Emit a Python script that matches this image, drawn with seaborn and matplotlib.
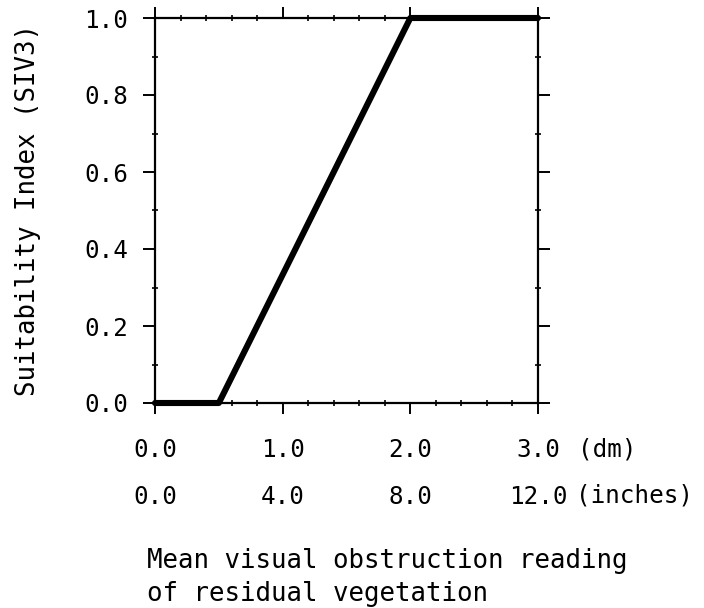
import matplotlib
matplotlib.use('Agg')
import matplotlib.pyplot as plt
import seaborn as sns
import pandas as pd
from matplotlib.ticker import MultipleLocator

# curve of the suitability index
obstruction_dm = [0.0, 0.5, 2.0, 3.0]
siv3 = [0.0, 0.0, 1.0, 1.0]

dm_ticks = [0.0, 1.0, 2.0, 3.0]
dm_labels = ['0.0', '1.0', '2.0', '3.0']
inch_labels = ['0.0', '4.0', '8.0', '12.0']
y_ticks = [0.0, 0.2, 0.4, 0.6, 0.8, 1.0]

sns.set_style('white')
plt.rcParams['font.family'] = ['DejaVu Sans Mono', 'Liberation Mono']
plt.rcParams['text.color'] = 'black'
plt.rcParams['xtick.color'] = 'black'
plt.rcParams['ytick.color'] = 'black'
plt.rcParams['xtick.labelcolor'] = 'black'
plt.rcParams['ytick.labelcolor'] = 'black'

TICK_FS = 17.5
LABEL_FS = 18.5

df = pd.DataFrame({'dm': obstruction_dm, 'siv': siv3})

fig = plt.figure(figsize=(7.04, 6.08), dpi=100)
ax = fig.add_axes([155 / 704, 1 - 403 / 608, 383 / 704, 385 / 608])

sns.lineplot(data=df, x='dm', y='siv', estimator=None, sort=False,
             color='black', linewidth=4.4, ax=ax, clip_on=False)

ax.set_xlim(0, 3)
ax.set_ylim(0, 1)
ax.set_xlabel('')
ax.set_ylabel('')

for s in ax.spines.values():
    s.set_color('black')
    s.set_linewidth(1.6)

ax.set_xticks(dm_ticks)
ax.set_xticklabels(dm_labels, fontsize=TICK_FS, color='black')
ax.set_yticks(y_ticks)
ax.set_yticklabels([f'{v:.1f}' for v in y_ticks], fontsize=TICK_FS, color='black')
ax.xaxis.set_minor_locator(MultipleLocator(0.2))
ax.yaxis.set_minor_locator(MultipleLocator(0.1))

ax.tick_params(axis='x', which='major', direction='out', length=8, width=1.4,
               top=True, bottom=True, pad=17, colors='black')
ax.tick_params(axis='y', which='major', direction='out', length=8.5, width=1.4,
               left=True, right=True, pad=11, colors='black')
ax.tick_params(which='minor', direction='inout', length=5, width=1.2,
               top=True, bottom=True, left=True, right=True, colors='black')

# second row of tick labels in inches
sec = ax.secondary_xaxis(-58 / 385)
sec.set_xticks(dm_ticks)
sec.set_xticklabels(inch_labels, fontsize=TICK_FS, color='black')
sec.tick_params(length=0, pad=17, labelsize=TICK_FS, labelcolor='black')
sec.spines['bottom'].set_visible(False)

fig.text(578 / 704, 1 - 456 / 608, '(dm)', fontsize=TICK_FS, color='black',
         ha='left', va='baseline')
fig.text(576 / 704, 1 - 503 / 608, '(inches)', fontsize=TICK_FS, color='black',
         ha='left', va='baseline')

fig.text(28 / 704, 1 - 210 / 608, 'Suitability Index (SIV3)', fontsize=LABEL_FS,
         color='black', rotation=90, ha='center', va='center')

fig.text(147 / 704, 1 - 568 / 608, 'Mean visual obstruction reading',
         fontsize=LABEL_FS, color='black', ha='left', va='baseline')
fig.text(147 / 704, 1 - 601 / 608, 'of residual vegetation',
         fontsize=LABEL_FS, color='black', ha='left', va='baseline')

fig.savefig('out.png', dpi=100)
plt.close(fig)
